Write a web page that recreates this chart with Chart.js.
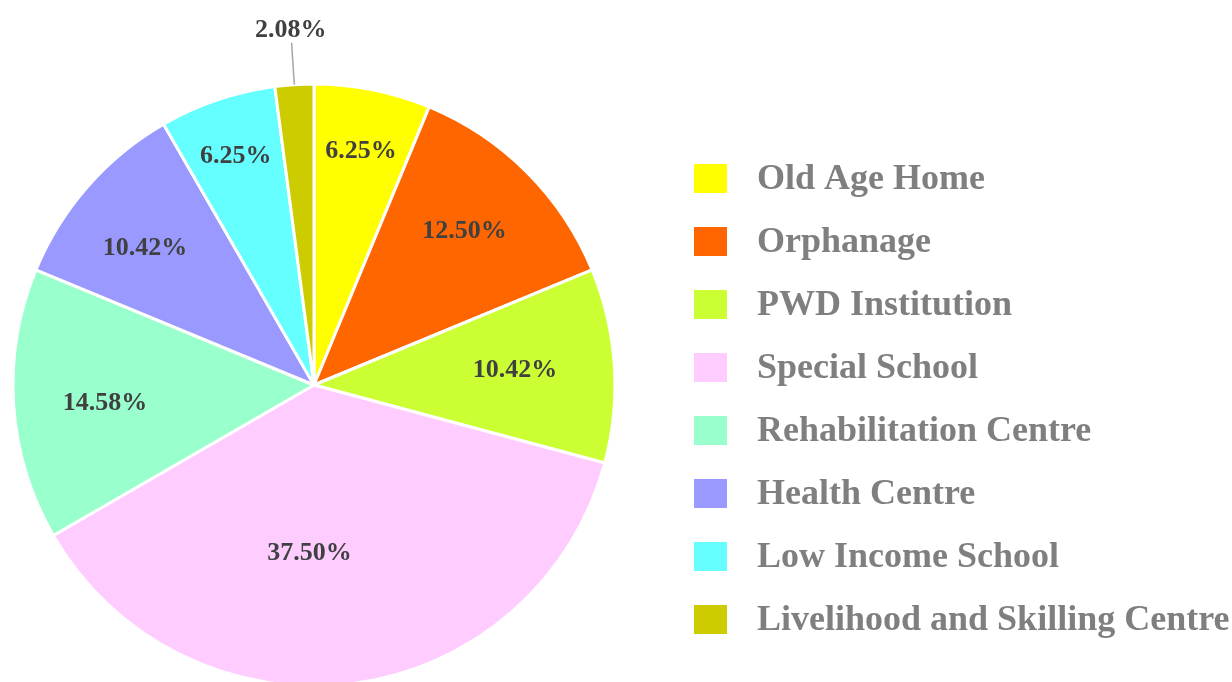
<!DOCTYPE html>
<html>
<head>
<meta charset="utf-8">
<script src="https://cdn.jsdelivr.net/npm/chart.js@4/dist/chart.umd.min.js"></script>
<style>
  html, body { margin: 0; padding: 0; background: #ffffff; }
  #wrap { width: 1232px; height: 682px; position: relative; }
</style>
</head>
<body>
<div id="wrap"><canvas id="c" width="1232" height="682"></canvas></div>
<script>
const categories = ['Old Age Home', 'Orphanage', 'PWD Institution', 'Special School',
  'Rehabilitation Centre', 'Health Centre', 'Low Income School', 'Livelihood and Skilling Centre'];
const shares = [6.25, 12.50, 10.42, 37.50, 14.58, 10.42, 6.25, 2.08];
const sliceColors = ['#FFFF00', '#FF6600', '#CCFF33', '#FFCCFF', '#99FFCC', '#9999FF', '#66FFFF', '#CCCC00'];
// label placement: fraction of radius (>1 = outside with leader line) and angular nudge in degrees
const labelRadius = [0.80, 0.72, 0.67, 0.553, 0.696, 0.727, 0.81, 1.186];
const labelNudge = [0, -1, -1, 9.0, -0.6, -1.85, 0, 0];

const FONT = '"Liberation Serif", "Times New Roman", serif';

const labelPlugin = {
  id: 'pieLabels',
  afterDatasetsDraw(chart) {
    const ctx = chart.ctx;
    const meta = chart.getDatasetMeta(0);
    ctx.save();
    ctx.font = 'bold 26px ' + FONT;
    ctx.fillStyle = '#404040';
    ctx.textAlign = 'center';
    ctx.textBaseline = 'middle';
    meta.data.forEach((arc, i) => {
      const p = arc.getProps(['x', 'y', 'startAngle', 'endAngle', 'outerRadius'], true);
      const mid = (p.startAngle + p.endAngle) / 2;
      const ang = mid + labelNudge[i] * Math.PI / 180;
      const f = labelRadius[i];
      const txt = shares[i].toFixed(2) + '%';
      if (f > 1) {
        const r0 = p.outerRadius;
        const r1 = p.outerRadius + 42;
        ctx.strokeStyle = '#A6A6A6';
        ctx.lineWidth = 1.5;
        ctx.beginPath();
        ctx.moveTo(p.x + Math.cos(mid) * r0, p.y + Math.sin(mid) * r0);
        ctx.lineTo(p.x + Math.cos(mid) * r1, p.y + Math.sin(mid) * r1);
        ctx.stroke();
      }
      const r = p.outerRadius * f;
      ctx.fillText(txt, p.x + Math.cos(ang) * r, p.y + Math.sin(ang) * r + 2);
    });
    ctx.restore();
  }
};

const legendPlugin = {
  id: 'sideLegend',
  afterDraw(chart) {
    const ctx = chart.ctx;
    const labels = chart.data.labels;
    const colors = chart.data.datasets[0].backgroundColor;
    const x0 = 694, y0 = 178.5, step = 63;
    ctx.save();
    ctx.font = 'bold 36px ' + FONT;
    ctx.textBaseline = 'middle';
    ctx.textAlign = 'left';
    labels.forEach((lab, i) => {
      const cy = y0 + i * step;
      ctx.fillStyle = colors[i];
      ctx.fillRect(x0, cy - 14.5, 33, 29);
      ctx.fillStyle = '#7F7F7F';
      ctx.fillText(lab, 757, cy + 1);
    });
    ctx.restore();
  }
};

new Chart(document.getElementById('c'), {
  type: 'pie',
  data: {
    labels: categories,
    datasets: [{
      data: shares,
      backgroundColor: sliceColors,
      borderColor: '#FFFFFF',
      borderWidth: 3,
      radius: 301,
      clip: false
    }]
  },
  options: {
    responsive: false,
    animation: false,
    layout: { padding: { top: 88, left: 0, right: 604, bottom: 0 } },
    plugins: {
      legend: { display: false },
      tooltip: { enabled: false }
    }
  },
  plugins: [labelPlugin, legendPlugin]
});
</script>
</body>
</html>
